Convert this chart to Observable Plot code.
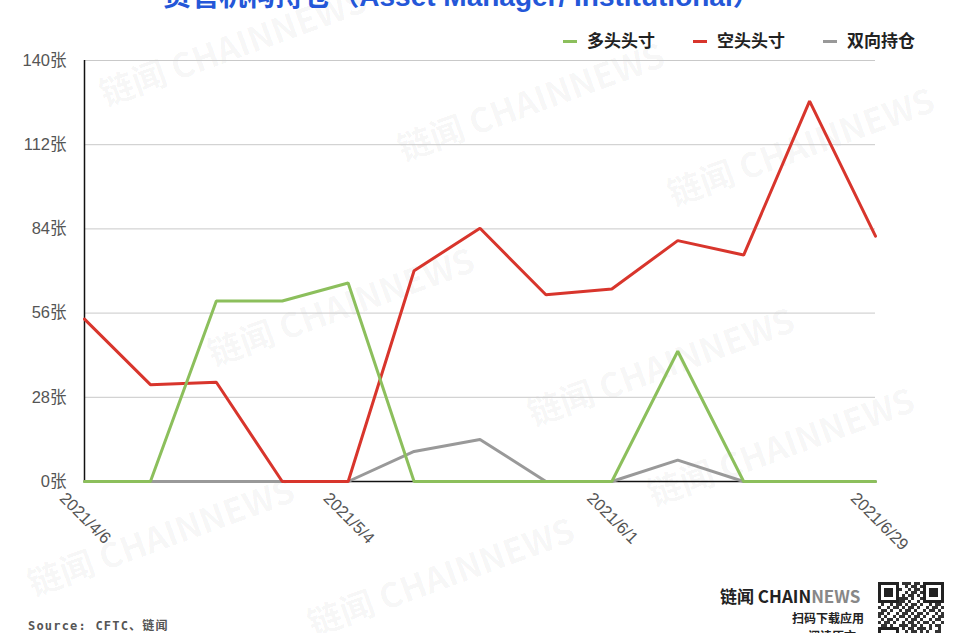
<!DOCTYPE html>
<html><head><meta charset="utf-8">
<script src="https://cdn.jsdelivr.net/npm/d3@7"></script>
<script src="https://cdn.jsdelivr.net/npm/@observablehq/plot@0.6"></script>
<style>
body{margin:0;background:#fff;}
#wrap{position:relative;width:960px;height:633px;overflow:hidden;font-family:"Liberation Sans","Noto Sans CJK SC",sans-serif;background:#fff;}
#chart{position:absolute;left:0;top:0;}
#title{position:absolute;left:0;width:924px;top:-17px;text-align:center;font-size:28px;font-weight:bold;color:#2457d8;line-height:1;white-space:nowrap;font-family:"Liberation Sans","Noto Sans CJK SC",sans-serif;}
#legend{position:absolute;top:29px;left:563px;font-size:17px;font-weight:bold;color:#222;white-space:nowrap;font-family:"Noto Sans CJK SC",sans-serif;line-height:22px;}
#legend span.item{display:inline-block;margin-right:38px;}
#legend span.sw{display:inline-block;width:14px;height:3px;vertical-align:middle;margin-right:10px;position:relative;top:-1px;}
.wm{position:absolute;font-size:34px;font-weight:bold;color:rgba(0,0,0,0.045);transform:rotate(-20deg);transform-origin:left top;white-space:nowrap;font-family:"Noto Sans CJK SC",sans-serif;pointer-events:none;}
#source{position:absolute;left:28px;top:616px;font-size:12px;font-weight:bold;color:#555;letter-spacing:1.2px;font-family:"DejaVu Sans Mono","Noto Sans CJK SC",monospace;}
#brand{position:absolute;left:720px;top:586px;font-size:17px;font-weight:bold;color:#222;font-family:"Noto Sans CJK SC",sans-serif;white-space:nowrap;line-height:20px;}
#brand .news{color:#888;}
#sub1{position:absolute;left:792px;top:609px;font-size:12px;font-weight:bold;color:#222;font-family:"Noto Sans CJK SC",sans-serif;}
#sub2{position:absolute;left:808px;top:627px;font-size:12px;font-weight:bold;color:#222;font-family:"Noto Sans CJK SC",sans-serif;}
#qr{position:absolute;left:878px;top:582px;width:66px;height:66px;}
</style></head><body>
<div id="wrap">
  <div id="chart"></div>
  <div id="title">资管机构持仓（Asset Manager/ Institutional）</div>
  <div id="legend"></div>
  <div id="source">Source: CFTC、链闻</div>
  <div id="brand">链闻 CHAIN<span class="news">NEWS</span></div>
  <div id="sub1">扫码下载应用</div>
  <div id="sub2">阅读原文</div>
  <svg id="qr" viewBox="0 0 22 22"></svg>
</div>
<script>
// ---- data ----
const dates = ["2021-04-06","2021-04-13","2021-04-20","2021-04-27","2021-05-04","2021-05-11","2021-05-18","2021-05-25","2021-06-01","2021-06-08","2021-06-15","2021-06-22","2021-06-29"];
const longPos  = [0, 0, 60, 60, 66, 0, 0, 0, 0, 43.3, 0, 0, 0];
const shortPos = [54, 32.2, 33, 0, 0, 70.1, 84.2, 62.1, 64, 80.1, 75.3, 126.5, 81.6];
const bothPos  = [0, 0, 0, 0, 0, 10, 14, 0, 0, 7.1, 0, 0, 0];
const seriesNames  = ["多头头寸", "空头头寸", "双向持仓"];
const seriesColors = ["#8cbf5c", "#d8352c", "#999999"];
const yTicks = [0, 28, 56, 84, 112, 140];
const xTickDates  = ["2021-04-06", "2021-05-04", "2021-06-01", "2021-06-29"];
const xTickLabels = ["2021/4/6", "2021/5/4", "2021/6/1", "2021/6/29"];
const watermark = "链闻 CHAINNEWS";

// ---- build ----
const parse = d3.utcParse("%Y-%m-%d");
const seriesValues = [longPos, shortPos, bothPos];
const drawOrder = [2, 1, 0];
const rows = [];
for (const s of drawOrder) {
  dates.forEach((d, i) => rows.push({date: parse(d), value: seriesValues[s][i], series: seriesNames[s]}));
}
const tickDates = xTickDates.map(parse);
const labelMap = new Map(tickDates.map((d, i) => [+d, xTickLabels[i]]));
const x0 = parse(dates[0]), x1 = parse(dates[dates.length - 1]);

const chart = Plot.plot({
  width: 960, height: 633,
  marginTop: 60, marginLeft: 84, marginRight: 85, marginBottom: 152,
  style: {fontFamily: "'Liberation Sans','Noto Sans CJK SC',sans-serif", background: "transparent"},
  x: {type: "utc", domain: [x0, x1]},
  y: {domain: [0, 140]},
  color: {domain: seriesNames, range: seriesColors},
  marks: [
    Plot.gridY(yTicks, {stroke: "#c9c9c9", strokeOpacity: 1, strokeWidth: 1}),
    Plot.axisY(yTicks, {tickSize: 0, tickPadding: 18, tickFormat: d => d + "张", fontSize: 16.5, fill: "#555", label: null}),
    Plot.axisX(tickDates, {tickSize: 0, tickPadding: 0, tickRotate: 45, dx: -22, dy: 14, tickFormat: d => labelMap.get(+d), fontSize: 16.5, fill: "#555", label: null}),
    Plot.ruleX([x0], {stroke: "#111", strokeWidth: 1.5}),
    Plot.ruleY([0], {stroke: "#111", strokeWidth: 1.5}),
    Plot.line(rows, {x: "date", y: "value", z: "series", stroke: "series", strokeWidth: 3, strokeLinejoin: "miter"})
  ]
});
document.getElementById("chart").appendChild(chart);

// legend
const legend = document.getElementById("legend");
seriesNames.forEach((n, i) => {
  const it = document.createElement("span");
  it.className = "item";
  it.innerHTML = `<span class="sw" style="background:${seriesColors[i]}"></span>${n}`;
  legend.appendChild(it);
});

// watermarks (kept inside the frame)
const wmPos = [[92,70],[390,125],[660,170],[200,330],[520,390],[640,470],[20,560],[300,600]];
const wrap = document.getElementById("wrap");
wmPos.forEach(([l, t]) => {
  const w = document.createElement("div");
  w.className = "wm";
  w.style.left = l + "px"; w.style.top = t + "px";
  w.textContent = watermark;
  wrap.insertBefore(w, wrap.firstChild.nextSibling);
});

// decorative QR pattern
const qr = d3.select("#qr");
qr.append("rect").attr("width", 22).attr("height", 22).attr("fill", "#fff");
const bits = "1011010011101101001011010110100101101110100101101011001011010100110101101001011010011010110101001011010110100101101001110100101101011010010110100101101011010010110101101001011010010110101101001011010110100101101001011010110100101101011010010110100101101011010010110101101001011010010110101101001011010110100";
for (let r = 0; r < 22; r++) for (let c = 0; c < 22; c++) {
  if (bits[(r * 22 + c) % bits.length] === "1") qr.append("rect").attr("x", c).attr("y", r).attr("width", 1).attr("height", 1).attr("fill", "#333");
}
[[0,0],[15,0],[0,15]].forEach(([x,y]) => {
  qr.append("rect").attr("x", x).attr("y", y).attr("width", 7).attr("height", 7).attr("fill", "#fff");
  qr.append("rect").attr("x", x+0.5).attr("y", y+0.5).attr("width", 6).attr("height", 6).attr("fill", "none").attr("stroke", "#222").attr("stroke-width", 1);
  qr.append("rect").attr("x", x+2).attr("y", y+2).attr("width", 3).attr("height", 3).attr("fill", "#222");
});
</script>
</body></html>
